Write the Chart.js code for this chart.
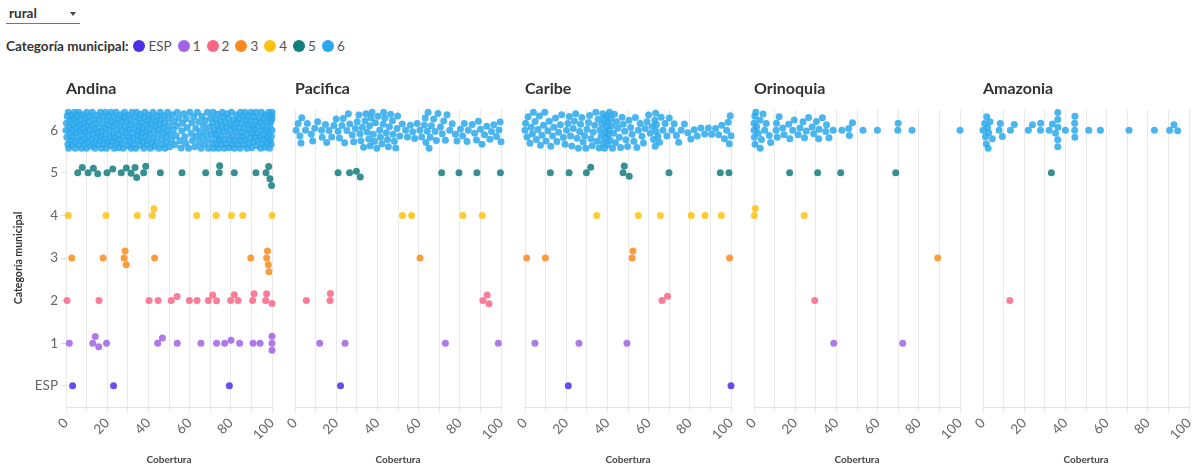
<!DOCTYPE html>
<html lang="es">
<head>
<meta charset="utf-8">
<title>Cobertura rural por región</title>
<script src="https://cdn.jsdelivr.net/npm/chart.js@4.4.1/dist/chart.umd.min.js"></script>
<style>
  body { margin: 0; background: #fff; font-family: Lato, 'Open Sans', sans-serif; color: #333; }
  #wrap { position: relative; width: 1203px; height: 469px; overflow: hidden; }
  .dd { position: absolute; left: 6px; top: 4px; width: 74px; height: 19px; border-bottom: 1px solid #777; }
  .dd .txt { position: absolute; left: 3px; top: 1px; font-size: 13.5px; font-weight: 700; color: #333; }
  .dd .caret { position: absolute; right: 4px; top: 8px; width: 0; height: 0;
    border-left: 3px solid transparent; border-right: 3px solid transparent; border-top: 4px solid #444; }
  .legend { position: absolute; left: 6px; top: 38px; display: flex; align-items: center; font-size: 13.5px; line-height: 16px; }
  .legend b { margin-right: 5px; color: #333; }
  .legend i { display: inline-block; width: 12px; height: 12px; border-radius: 50%; margin-right: 3px; }
  .legend span { margin-right: 6px; color: #555; }
  canvas { position: absolute; top: 70px; }
</style>
</head>
<body>
<div id="wrap">
  <div class="dd"><span class="txt">rural</span><span class="caret"></span></div>
  <div class="legend" id="legend"><b>Categoría municipal:</b></div>
</div>
<script>
// Data
const regions = ['Andina', 'Pacifica', 'Caribe', 'Orinoquia', 'Amazonia'];
const categories = ['ESP', '1', '2', '3', '4', '5', '6'];
const colors = ['#4c2fe6', '#a162e6', '#fa6685', '#fb8b1e', '#ffc20e', '#137c7e', '#2aa8ec'];
const xTickLabels = [0, 20, 40, 60, 80, 100];

// coverage values per category, ESP first
const andina = [
  [3.2, 23.1, 79.3],
  [1.6, 13, 14.2, 15.9, 19.7, 44.5, 46.8, 54, 65.5, 73.1, 77, 80.1, 84.3, 90.8, 94.2, 100, 100, 100],
  [0.5, 16, 40.3, 44.7, 51.1, 53.9, 59.9, 63.6, 69.1, 71.2, 73.1, 79.9, 81.7, 83.5, 90.6, 91.3, 96.9, 97.4, 100],
  [2.8, 18, 28.2, 28.7, 29.2, 43, 89.7, 97.4, 97.8, 98.2, 98.5],
  [1.1, 19.4, 34.6, 41.9, 42.7, 63.4, 72.8, 80.3, 85.8, 100],
  [5.7, 7.9, 10.7, 13.3, 15.4, 19.9, 22.7, 26.8, 29.3, 31.6, 33.5, 34.3, 37.7, 38.7, 45.8, 56.3, 67.8, 74.4, 74.6, 81.7, 92.2, 97.1, 98.4, 99, 99.8],
  [0, 0.2, 0.4, 0.9, 1.1, 1.3, 1.8, 2.1, 2.2, 2.7, 3.0, 3.3, 3.5, 4.0, 4.2, 4.8, 5.1, 5.3, 5.6, 6.0, 6.2, 6.7, 7.1, 7.2, 7.8, 8.1, 8.3, 8.8, 9.2, 9.5, 9.9,
   10.3, 10.6, 11.0, 11.4, 11.5, 12.1, 12.4, 12.6, 13.2, 13.3, 13.9, 14.1, 14.5, 14.8, 15.3, 15.6, 16.0, 16.2, 16.7, 17.0, 17.4, 17.9, 18.1, 18.5, 18.8, 19.3, 19.6, 19.9,
   20.2, 20.5, 21.1, 21.3, 21.8, 22.0, 22.4, 22.9, 23.2, 23.5, 24.0, 24.3, 24.7, 25.1, 25.4, 25.8, 26.2, 26.4, 27.0, 27.3, 27.6, 28.1, 28.4, 28.7, 29.2, 29.5, 29.9,
   30.1, 30.6, 30.9, 31.2, 31.7, 32.0, 32.3, 32.8, 33.1, 33.4, 33.9, 34.2, 34.6, 35.0, 35.3, 35.7, 36.1, 36.4, 36.9, 37.2, 37.5, 38.0, 38.3, 38.8, 39.1, 39.4, 39.8,
   40.2, 40.5, 41.0, 41.3, 41.9, 42.2, 42.5, 43.0, 43.4, 43.7, 44.2, 44.6, 45.1, 45.4, 45.9, 46.3, 46.6, 47.2, 47.5, 48.0, 48.4, 48.9, 49.3, 49.7,
   50.2, 50.6, 51.3, 51.7, 52.4, 52.9, 53.5, 54.0, 54.8, 55.3, 55.9, 56.6, 57.1, 57.7, 58.4, 58.9, 59.5,
   60.1, 60.8, 61.4, 62.0, 62.5, 63.3, 63.8, 64.4, 65.0, 65.6, 66.3, 66.8, 67.4, 67.9, 68.6, 69.1, 69.7,
   70.2, 70.5, 71.1, 71.4, 71.9, 72.3, 72.8, 73.1, 73.6, 74.0, 74.4, 74.9, 75.3, 75.6, 76.2, 76.5, 77.0, 77.4, 77.8, 78.3, 78.6, 79.1, 79.5, 79.9,
   80.3, 80.6, 81.2, 81.5, 81.9, 82.4, 82.7, 83.2, 83.6, 84.0, 84.5, 84.8, 85.3, 85.7, 86.1, 86.5, 86.9, 87.4, 87.7, 88.2, 88.6, 89.0, 89.5, 89.8,
   90.2, 90.5, 90.9, 91.4, 91.7, 92.1, 92.6, 92.9, 93.3, 93.8, 94.1, 94.5, 94.9, 95.2, 95.6, 96.0, 96.3, 96.8, 97.1, 97.4, 97.8, 98.2, 98.5, 98.8, 99.1, 99.4, 99.7, 100, 100, 100,
   0.6, 1.6, 2.5, 3.8, 4.5, 5.8, 6.5, 7.5, 8.6, 9.4, 10.1, 11.2, 12.8, 13.6, 15.0, 16.4, 17.2, 18.3, 19.1, 20.8,
   21.6, 22.6, 23.8, 24.5, 25.6, 26.8, 27.8, 28.9, 30.4, 31.5, 32.5, 33.7, 34.8, 35.9, 36.7, 37.8, 38.6, 39.6,
   40.8, 41.6, 42.8, 43.9, 44.9, 45.7, 46.9, 47.8, 49.0, 50.4, 52.1, 53.8, 56.2, 58.1, 61.1, 63.0, 64.7, 66.0,
   67.6, 68.9, 70.8, 71.7, 72.6, 73.4, 74.2, 75.0, 75.9, 76.8, 77.6, 78.8, 79.7, 80.8, 81.7, 82.9, 83.8, 84.7,
   85.5, 86.3, 87.1, 87.9, 88.8, 89.7, 90.4, 91.2, 92.3, 93.1, 94.3, 95.0, 95.8, 96.6, 97.6, 98.4, 99.0, 99.6, 99.9]
];

const pacifica = [
  [22.1],
  [12, 24.3, 73, 98.7],
  [5.5, 17, 17.2, 91.2, 93.3, 94.2],
  [60.7],
  [52.2, 56.6, 81.5, 90.9],
  [20.9, 26.5, 29.8, 31.7, 71.2, 79.6, 88.3, 99.7],
  [0.5, 1.5, 2.4, 2.9, 3.3, 5.1, 6.0, 7.9, 8.6, 9.6, 11.0, 12.9, 13.2, 14.8,
   15.4, 16.5, 17.8, 18.9, 20.0, 20.9, 21.6, 22.8, 23.4, 24.1, 25.2, 25.9, 26.6, 27.8, 28.5, 29.3,
   30.2, 31.0, 31.6, 32.0, 32.7, 33.3, 34.0, 34.4, 35.1, 35.8, 36.2, 36.5, 36.9, 37.4, 38.0, 38.6, 39.0, 39.7,
   40.3, 41.1, 41.5, 42.2, 42.8, 43.0, 43.6, 44.3, 44.9, 45.3, 45.8, 46.4, 47.3, 47.6, 48.2, 48.9, 49.5, 49.8,
   50.9, 52.1, 53.7, 54.6, 56.0, 57.2, 58.1, 59.3, 60.6, 61.5, 62.8, 63.2, 63.6, 64.2, 64.6, 65.1, 65.6, 66.2, 67.3, 68.0, 68.6, 69.4,
   70.6, 71.5, 72.2, 73.0, 73.8, 75.1, 76.3, 77.9, 78.6, 80.3, 81.4, 82.2, 83.5, 84.1, 86.0, 87.2, 88.1, 89.0,
   90.0, 90.8, 92.0, 93.1, 94.6, 95.4, 96.5, 97.8, 99.0, 99.6, 100]
];

const caribe = [
  [21, 100],
  [4.8, 26.2, 49.5],
  [66.5, 69.2],
  [0.8, 9.9, 52, 52.4, 99.3],
  [34.8, 55, 65.7, 80.7, 87.4, 95.3],
  [12.3, 21.4, 29.8, 31.9, 47.6, 48.2, 50.6, 69.9, 94.8, 99],
  [0, 0.3, 1.0, 1.5, 2.4, 3.0, 3.6, 4.1, 4.9, 5.5, 6.3, 7.0, 7.5, 8.2, 9.0, 9.6,
   10.2, 11.1, 11.8, 12.5, 13.4, 14.0, 14.8, 15.5, 16.3, 17.2, 17.8, 18.6, 19.4,
   20.1, 20.8, 21.5, 22.1, 22.7, 23.4, 24.0, 24.6, 25.3, 25.9, 26.5, 27.0, 27.6, 28.2, 28.9, 29.5,
   30.1, 30.8, 31.4, 32.0, 32.6, 33.1, 33.8, 34.4,
   35.0, 35.5, 36.0, 36.4, 36.9, 37.3, 37.7, 38.0, 38.3, 38.6, 38.9, 39.2, 39.5, 39.7, 40.0, 40.2, 40.4, 40.7, 41.0, 41.3, 41.7, 42.1, 42.5, 43.0, 43.4, 43.9, 44.5,
   45.1, 45.8, 46.4, 47.1, 47.7, 48.4, 49.0, 49.8, 50.5, 51.3, 52.0, 52.8, 53.6, 54.3, 55.0, 55.9, 56.8, 57.5, 58.3, 59.2,
   60.0, 60.8, 61.7, 62.4, 63.0, 63.2, 63.4, 63.6, 63.8, 64.5, 65.3, 66.1, 67.0, 68.0, 68.9,
   70.0, 71.3, 72.4, 73.5, 74.6, 75.8, 77.4, 79.0, 80.5, 82.1, 83.6, 85.4, 87.2, 89.0,
   90.6, 92.5, 94.0, 95.5, 96.8, 97.9, 98.6, 99.2, 99.6, 100]
];

const orinoquia = [
  [],
  [38.7, 72.2],
  [29.5],
  [89.2],
  [0.2, 0.6, 24.4],
  [17.3, 30.9, 42.1, 68.8],
  [0, 0, 0.2, 0.4, 0.5, 0.9, 1.3, 2.1, 2.8, 3.0, 3.6, 4.4, 5.2, 5.9, 7.4, 8.1, 10.7, 10.9, 11.3, 12.2,
   13.9, 14.6, 16.8, 17.4, 18.8, 19.5, 21.4, 22.3, 23.8, 24.5, 25.4, 26.5, 28.2, 29.0, 30.3, 31.4,
   31.6, 33.2, 34.8, 35.2, 36.4, 38.4, 42.7, 46.0, 46.3, 47.8, 52.9, 59.9, 69.8, 70.0, 76.7, 100]
];

const amazonia = [
  [],
  [],
  [13],
  [],
  [],
  [33.2],
  [0, 0.8, 1.2, 1.6, 1.8, 2.2, 2.5, 2.8, 3.4, 4.5, 7.8, 8.4, 9.4, 13.3, 15.2, 22, 24, 27.9, 28,
   32.1, 33.7, 35.2, 36.3, 36.3, 36.3, 36.3, 36.4, 40, 44.5, 44.5, 44.6, 44.6, 51.3, 57, 70.9,
   83.2, 90.6, 92.7, 94.5]
];

const regionData = [andina, pacifica, caribe, orinoquia, amazonia];

// Layout
const plotLeft = [66, 295, 525, 754, 983];
const PLOT_W = 206, PLOT_H = 298;
const PX = PLOT_W / 100;                 // px per coverage point
const PY = PLOT_H / categories.length;   // px per category row
const RADIUS = 3.5;
const DOT = 7;                           // spacing between dot centres
const BAND = 18;                         // max spread around a row

// beeswarm: push overlapping dots up/down, fill the band when it is crowded
function swarm(values, row) {
  const placed = [];
  return values.slice().sort((a, b) => a - b).map(v => {
    const x = v * PX;
    const near = placed.filter(p => Math.abs(p.x - x) < DOT);
    const free = c => near.every(p => (p.x - x) ** 2 + (p.y - c) ** 2 >= DOT * DOT - 0.01);
    const cands = [0];
    near.forEach(p => {
      const h = Math.sqrt(DOT * DOT - (p.x - x) ** 2);
      cands.push(p.y + h, p.y - h);
    });
    cands.sort((a, b) => Math.abs(a) - Math.abs(b));
    let y = cands.find(c => Math.abs(c) <= BAND && free(c));
    if (y === undefined) {
      let best = -1;
      for (let s = 0; s <= BAND; s += 0.5) {
        for (const c of [s, -s]) {
          const d = Math.min(...near.map(p => (p.x - x) ** 2 + (p.y - c) ** 2));
          if (d > best + 0.01) { best = d; y = c; }
        }
      }
    }
    placed.push({ x, y });
    return { x: v, y: row + y / PY };
  });
}

// Legend
const legend = document.getElementById('legend');
categories.forEach((c, k) => {
  const dot = document.createElement('i');
  dot.style.background = colors[k];
  const lab = document.createElement('span');
  lab.textContent = c;
  legend.append(dot, lab);
});

const panelTitle = {
  id: 'panelTitle',
  afterDraw(chart, args, opts) {
    const ctx = chart.ctx;
    ctx.save();
    ctx.font = 'bold 16px Lato, sans-serif';
    ctx.fillStyle = '#333';
    ctx.textBaseline = 'middle';
    ctx.fillText(opts.text, chart.chartArea.left, 19);
    ctx.restore();
  }
};

const wrap = document.getElementById('wrap');
regions.forEach((name, i) => {
  const first = i === 0;
  const padL = first ? 0 : 24;
  const axisW = first ? 66 : 0;
  const padR = 10;
  const cv = document.createElement('canvas');
  cv.width = padL + axisW + PLOT_W + padR;
  cv.height = 399;
  cv.style.left = (plotLeft[i] - padL - axisW) + 'px';
  wrap.appendChild(cv);

  new Chart(cv.getContext('2d'), {
    type: 'scatter',
    data: {
      datasets: categories.map((c, k) => ({
        label: c,
        data: swarm(regionData[i][k], k),
        backgroundColor: colors[k] + 'd9',
        borderWidth: 0,
        pointRadius: RADIUS,
        pointHoverRadius: RADIUS,
        clip: false
      }))
    },
    plugins: [panelTitle],
    options: {
      responsive: false,
      animation: false,
      events: [],
      layout: { padding: { left: padL, right: padR, top: 39, bottom: 0 } },
      plugins: {
        legend: { display: false },
        tooltip: { enabled: false },
        panelTitle: { text: name }
      },
      scales: {
        x: {
          type: 'linear',
          min: 0, max: 100,
          afterBuildTicks: s => { s.ticks = [0, 10, 20, 30, 40, 50, 60, 70, 80, 90, 100].map(v => ({ value: v })); },
          afterFit: s => { s.height = 62; s.paddingLeft = 0; s.paddingRight = 0; },
          grid: { color: '#e9e9e9', tickLength: 6 },
          border: { color: '#e3e3e3' },
          ticks: {
            autoSkip: false,
            minRotation: 45, maxRotation: 45,
            padding: 2,
            color: '#666',
            font: { family: 'Lato', size: 13.5 },
            callback: v => xTickLabels.includes(v) ? String(v) : ''
          },
          title: {
            display: true, text: 'Cobertura', color: '#444',
            font: { family: 'Lato', size: 10, weight: 'bold' },
            padding: { top: 0, bottom: 3 }
          }
        },
        y: {
          type: 'linear',
          display: first,
          min: -0.5, max: 6.5,
          afterBuildTicks: s => { s.ticks = categories.map((c, k) => ({ value: k })); },
          afterFit: s => { if (first) s.width = axisW; },
          grid: { drawOnChartArea: false, tickLength: 5, color: '#dddddd' },
          border: { display: false },
          ticks: {
            padding: 3,
            color: '#666',
            font: { family: 'Lato', size: 13.5 },
            callback: v => categories[v]
          },
          title: {
            display: true, text: 'Categoría municipal', color: '#333',
            font: { family: 'Lato', size: 10.5, weight: 'bold' },
            padding: { top: 12, bottom: 0 }
          }
        }
      }
    }
  });
});
</script>
</body>
</html>
